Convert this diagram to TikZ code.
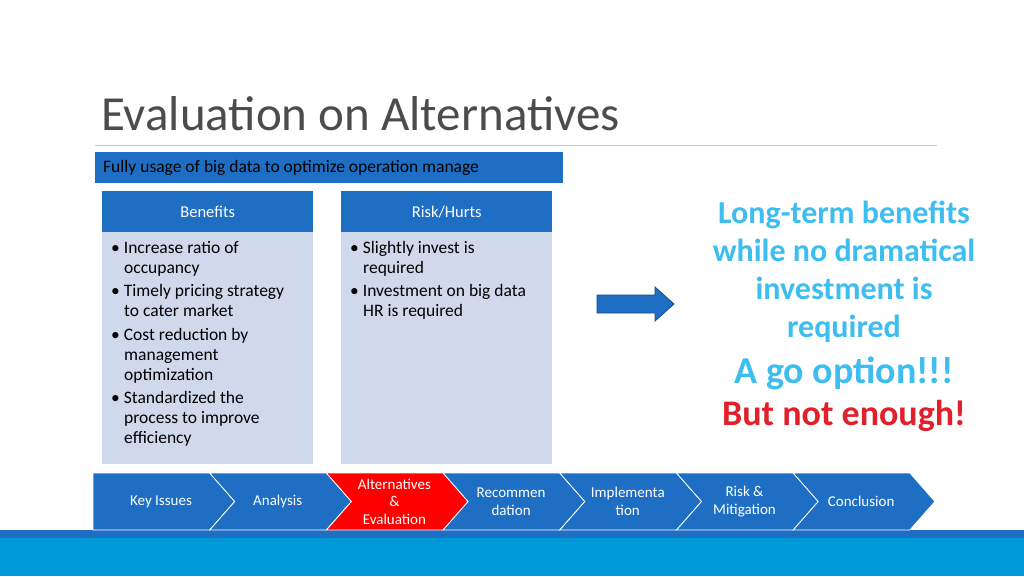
\documentclass[tikz,border=0pt]{standalone}
\usepackage{fontspec}
\setmainfont{Carlito}
\usetikzlibrary{positioning}

\definecolor{slideblue}{HTML}{1E6EC4}
\definecolor{boxbody}{HTML}{D0D8EC}
\definecolor{bandcyan}{HTML}{0099D8}
\definecolor{callcyan}{HTML}{3DBDF0}
\definecolor{callred}{HTML}{E0202A}

\tikzset{
    header/.style={fill=slideblue, text=white, minimum width=211pt,
        minimum height=41pt, inner sep=0pt, font=\fontsize{16.5}{20}\selectfont},
    bodybox/.style={fill=boxbody, minimum width=211pt, minimum height=232pt,
        inner sep=0pt},
    itemtext/.style={anchor=north west, align=flush left, text width=200pt,
        font=\fontsize{17.5}{20}\selectfont, inner sep=0pt},
    chevtext/.style={text=white, align=center, font=\fontsize{15}{17.5}\selectfont},
    calltext/.style={align=center, font=\bfseries, inner sep=0pt}
}

\begin{document}
\begin{tikzpicture}[x=1pt,y=-1pt]

% Page frame.
\useasboundingbox (0,0) rectangle (1024,576);

% Bottom band.
\fill[slideblue] (0,530) rectangle (1024,538);
\fill[bandcyan] (0,538) rectangle (1024,576);

% Title and rule.
\node (title) [anchor=base west, inner sep=0pt, text=black!70,
    font=\fontsize{49}{52}\selectfont] at (101,130) {Evaluation on Alternatives};
\draw[black!20, line width=1pt] (95,145) coordinate (ruleL) -- (937,145) coordinate (ruleR);

% Banner.
\fill[slideblue] (95,152) rectangle (563,183);
\node (banner) [anchor=west, inner sep=0pt, font=\fontsize{17.5}{20}\selectfont] at (103,168)
    {Fully usage of big data to optimize operation manage};

% Benefits column.
\node (benbody) [bodybox, anchor=north west] at (102,232) {};
\node (benhead) [header, anchor=north west] at (102,191) {Benefits};
\node (benlist) [itemtext] at (111,241) {%
    \textbullet\ Increase ratio of\\\hspace*{13pt}occupancy\\[3.5pt]
    \textbullet\ Timely pricing strategy\\\hspace*{13pt}to cater market\\[3.5pt]
    \textbullet\ Cost reduction by\\\hspace*{13pt}management\\\hspace*{13pt}optimization\\[3.5pt]
    \textbullet\ Standardized the\\\hspace*{13pt}process to improve\\\hspace*{13pt}efficiency};

% Risk column.
\node (riskbody) [bodybox, anchor=north west] at (341,232) {};
\node (riskhead) [header, anchor=north west] at (341,191) {Risk/Hurts};
\node (risklist) [itemtext] at (350,241) {%
    \textbullet\ Slightly invest is\\\hspace*{13pt}required\\[3.5pt]
    \textbullet\ Investment on big data\\\hspace*{13pt}HR is required};

% Block arrow.
\filldraw[fill=slideblue, draw=slideblue!70!black, line width=0.8pt]
    (597,295) -- (655,295) -- (655,287) -- (674,304) -- (655,321)
    -- (655,313) -- (597,313) -- cycle;

% Call-out text.
\node (callA) [calltext, text=callcyan, font=\fontsize{32}{38}\bfseries] at (844,272)
    {Long-term benefits\\while no dramatical\\investment is\\required};
\node (callB) [calltext, text=callcyan, font=\fontsize{38}{40}\bfseries] at (844,373)
    {A go option!!!};
\node (callC) [calltext, text=callred, font=\fontsize{36}{40}\bfseries] at (844,416)
    {But not enough!};

% Chevron steps.
\foreach \i/\t/\c in {0/Key Issues/slideblue, 1/Analysis/slideblue,
    2/Alternatives\\\&\\Evaluation/red, 3/Recommen\\dation/slideblue,
    4/Implementa\\tion/slideblue, 5/Risk \&\\Mitigation/slideblue,
    6/Conclusion/slideblue} {
    \pgfmathsetmacro{\xa}{93+116.7*\i}
    \pgfmathsetmacro{\xb}{\xa+116.7}
    \ifnum\i=0
        \filldraw[fill=\c, draw=white, line width=0.8pt]
            (\xa,473) -- (\xb,473) -- (\xb+25,501.5) -- (\xb,530) -- (\xa,530) -- cycle;
    \else
        \filldraw[fill=\c, draw=white, line width=0.8pt]
            (\xa,473) -- (\xb,473) -- (\xb+25,501.5) -- (\xb,530) -- (\xa,530)
            -- (\xa+25,501.5) -- cycle;
    \fi
    \node (step\i) [chevtext] at (\xa+68,501.5) {\t};
}

\end{tikzpicture}
\end{document}
